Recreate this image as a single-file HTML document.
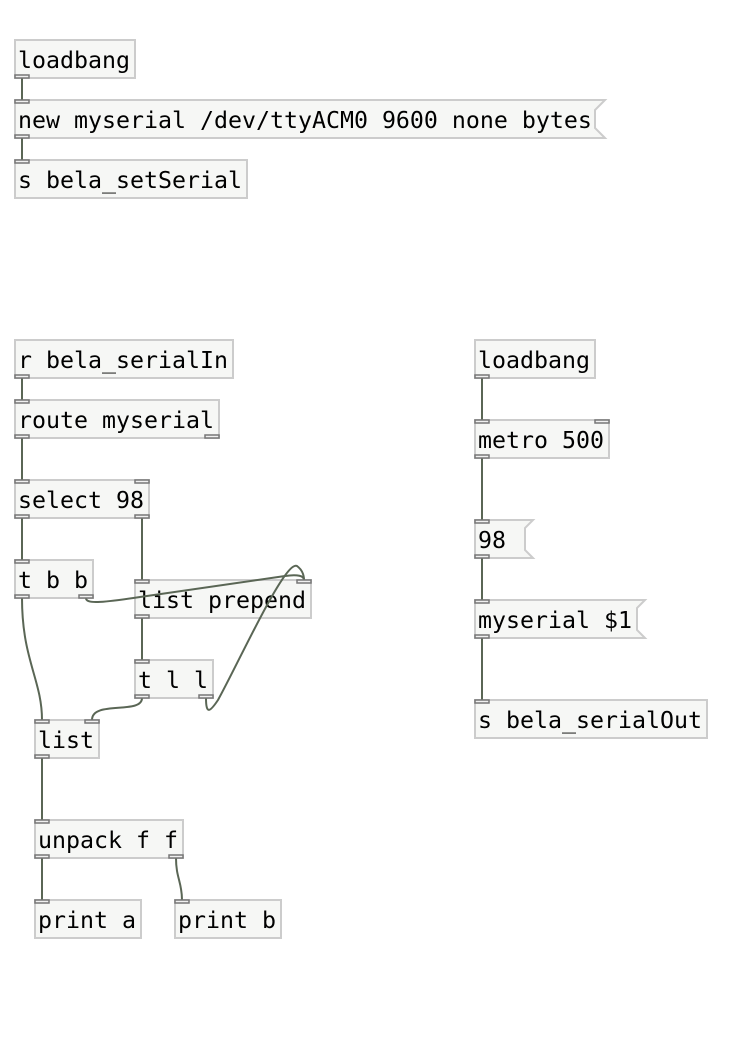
<!DOCTYPE html>
<html><head><meta charset="utf-8"><style>
html,body{margin:0;padding:0;background:#fff;}
svg{display:block}
text{font-family:"DejaVu Sans Mono","Liberation Mono",monospace;font-size:23.25px;fill:#000;}
.b{fill:#f6f7f5;stroke:#cccccc;stroke-width:2}
.p{fill:#f0f0f0;stroke:#777;stroke-width:1.5}
.c{fill:none;stroke:#5a6655;stroke-width:2}
</style></head><body>
<svg width="752" height="1064" viewBox="0 0 752 1064">
<!-- boxes -->
<rect class="b" x="15" y="40" width="120" height="38"/>
<path class="b" d="M15 100H605L595 110V128L605 138H15Z"/>
<rect class="b" x="15" y="160" width="232" height="38"/>
<rect class="b" x="15" y="340" width="218" height="38"/>
<rect class="b" x="15" y="400" width="204" height="38"/>
<rect class="b" x="15" y="480" width="134" height="38"/>
<rect class="b" x="15" y="560" width="78" height="38"/>
<rect class="b" x="135" y="580" width="176" height="38"/>
<rect class="b" x="135" y="660" width="78" height="38"/>
<rect class="b" x="35" y="720" width="64" height="38"/>
<rect class="b" x="35" y="820" width="148" height="38"/>
<rect class="b" x="35" y="900" width="106" height="38"/>
<rect class="b" x="175" y="900" width="106" height="38"/>
<rect class="b" x="475" y="340" width="120" height="38"/>
<rect class="b" x="475" y="420" width="134" height="38"/>
<path class="b" d="M475 520H533L525 528V550L533 558H475Z"/>
<path class="b" d="M475 600H645L637 608V630L645 638H475Z"/>
<rect class="b" x="475" y="700" width="232" height="38"/>
<!-- text -->
<text x="18" y="68">loadbang</text>
<text x="18" y="128">new myserial /dev/ttyACM0 9600 none bytes</text>
<text x="18" y="188">s bela_setSerial</text>
<text x="18" y="368">r bela_serialIn</text>
<text x="18" y="428">route myserial</text>
<text x="18" y="508">select 98</text>
<text x="18" y="588">t b b</text>
<text x="138" y="608">list prepend</text>
<text x="138" y="688">t l l</text>
<text x="38" y="748">list</text>
<text x="38" y="848">unpack f f</text>
<text x="38" y="928">print a</text>
<text x="178" y="928">print b</text>
<text x="478" y="368">loadbang</text>
<text x="478" y="448">metro 500</text>
<text x="478" y="548">98</text>
<text x="478" y="628">myserial $1</text>
<text x="478" y="728">s bela_serialOut</text>
<!-- cords -->
<path class="c" d="M22 78V100 M22 138V160 M22 378V400 M22 438V480 M22 518V560 M142 518V580 M142 618V660 M42 758V820 M42 858V900 M176 858 C176 878 182 882 182 900
M482 378V420 M482 458V520 M482 558V600 M482 638V700"/>
<path class="c" d="M22 598 C22 660 42 680 42 720"/>
<path class="c" d="M86 598 C86 604 100 603 140 597 L285 576 C298 574 304 576 304 580"/>
<path class="c" d="M142 698 C142 715 92 700 92 720"/>
<path class="c" d="M206 698 C206 715 210 712 218 700 C240 660 285 560 297 566 C301 569 304 574 304 580"/>
<!-- ports -->
<g class="p">
<rect x="15" y="75" width="14" height="3"/>
<rect x="15" y="100" width="14" height="3"/><rect x="15" y="135" width="14" height="3"/>
<rect x="15" y="160" width="14" height="3"/>
<rect x="15" y="375" width="14" height="3"/>
<rect x="15" y="400" width="14" height="3"/><rect x="15" y="435" width="14" height="3"/><rect x="205" y="435" width="14" height="3"/>
<rect x="15" y="480" width="14" height="3"/><rect x="135" y="480" width="14" height="3"/><rect x="15" y="515" width="14" height="3"/><rect x="135" y="515" width="14" height="3"/>
<rect x="15" y="560" width="14" height="3"/><rect x="15" y="595" width="14" height="3"/><rect x="79" y="595" width="14" height="3"/>
<rect x="135" y="580" width="14" height="3"/><rect x="297" y="580" width="14" height="3"/><rect x="135" y="615" width="14" height="3"/>
<rect x="135" y="660" width="14" height="3"/><rect x="135" y="695" width="14" height="3"/><rect x="199" y="695" width="14" height="3"/>
<rect x="35" y="720" width="14" height="3"/><rect x="85" y="720" width="14" height="3"/><rect x="35" y="755" width="14" height="3"/>
<rect x="35" y="820" width="14" height="3"/><rect x="35" y="855" width="14" height="3"/><rect x="169" y="855" width="14" height="3"/>
<rect x="35" y="900" width="14" height="3"/><rect x="175" y="900" width="14" height="3"/>
<rect x="475" y="375" width="14" height="3"/>
<rect x="475" y="420" width="14" height="3"/><rect x="595" y="420" width="14" height="3"/><rect x="475" y="455" width="14" height="3"/>
<rect x="475" y="520" width="14" height="3"/><rect x="475" y="555" width="14" height="3"/>
<rect x="475" y="600" width="14" height="3"/><rect x="475" y="635" width="14" height="3"/>
<rect x="475" y="700" width="14" height="3"/>
</g>
</svg>
</body></html>
